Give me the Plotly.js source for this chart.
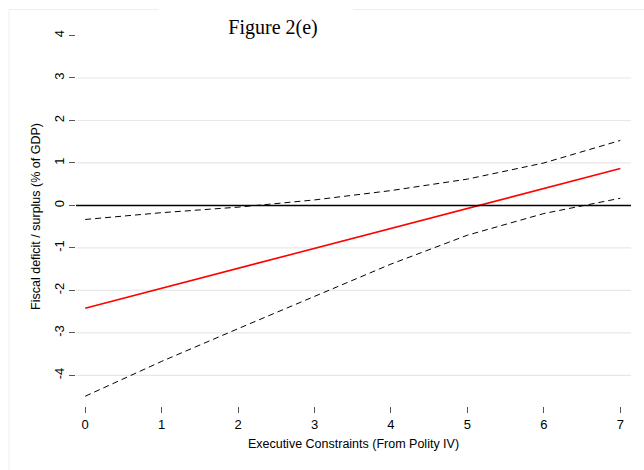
<!DOCTYPE html>
<html>
<head>
<meta charset="utf-8">
<script src="https://cdn.plot.ly/plotly-3.0.1.min.js"></script>
<style>html,body{margin:0;padding:0;background:#fff;}#chart{width:644px;height:470px;}</style>
</head>
<body>
<div id="chart"></div>
<script>
const xVals = [0, 1, 2, 3, 4, 5, 6, 7];
const fitted = [-2.42, -1.95, -1.48, -1.01, -0.54, -0.07, 0.40, 0.87];
const upperCI = [-0.33, -0.17, -0.04, 0.13, 0.35, 0.62, 1.00, 1.53];
const lowerCI = [-4.49, -3.67, -2.90, -2.14, -1.38, -0.70, -0.19, 0.17];
const yTicks = [-4, -3, -2, -1, 0, 1, 2, 3, 4];
const gridTicks = [-4, -3, -2, -1, 1, 2, 3];
const xTicks = [0, 1, 2, 3, 4, 5, 6, 7];

const traces = [
  {x: xVals, y: upperCI, mode: 'lines', line: {color: '#000', width: 1, dash: '6px,4px'}, hoverinfo: 'skip'},
  {x: xVals, y: lowerCI, mode: 'lines', line: {color: '#000', width: 1, dash: '6px,4px'}, hoverinfo: 'skip'},
  {x: xVals, y: fitted, mode: 'lines', line: {color: '#ff0000', width: 1.6}, hoverinfo: 'skip'}
];

const shapes = [];
gridTicks.forEach(v => shapes.push({type: 'line', xref: 'paper', yref: 'y', x0: 0, x1: 1, y0: v, y1: v,
  line: {color: '#e8e8e8', width: 1.2}, layer: 'below'}));
shapes.push({type: 'line', xref: 'paper', yref: 'y', x0: 0, x1: 1, y0: 0, y1: 0,
  line: {color: '#000', width: 1.6}, layer: 'above'});
// outer frame (cropped) and title background
shapes.push({type: 'rect', xref: 'paper', yref: 'paper', x0: -0.1207, x1: 1.2, y0: -0.3, y1: 1.046,
  line: {color: '#eeeeee', width: 1}, fillcolor: 'rgba(0,0,0,0)', layer: 'below'});
shapes.push({type: 'rect', xref: 'paper', yref: 'paper', x0: 0.148, x1: 0.499, y0: 1.03, y1: 1.06,
  line: {width: 0}, fillcolor: '#ffffff', layer: 'below'});

const layout = {
  width: 644, height: 470,
  margin: {l: 76, r: 13, t: 27, b: 64},
  paper_bgcolor: '#ffffff', plot_bgcolor: 'rgba(0,0,0,0)',
  showlegend: false,
  font: {family: 'Liberation Sans, Arial, sans-serif', color: '#000', size: 12},
  title: {text: 'Figure 2(e)', font: {family: 'Liberation Serif, Times New Roman, serif', size: 20, color: '#000'},
    x: 0.424, xanchor: 'center', y: 0.943, yanchor: 'middle'},
  xaxis: {range: [-0.12, 7.14], tickvals: xTicks, ticktext: xTicks.map(String),
    showgrid: false, zeroline: false, showline: false,
    ticks: 'outside', ticklen: 6, tickwidth: 1, tickcolor: '#555',
    tickfont: {size: 13}, title: {text: 'Executive Constraints (From Polity IV)', font: {size: 12.5}, standoff: 8}},
  yaxis: {range: [-4.72, 4.2], tickvals: yTicks, ticktext: yTicks.map(String),
    showgrid: false, zeroline: false, showline: false,
    ticks: 'outside', ticklen: 6, tickwidth: 1, tickcolor: '#555',
    tickangle: -90, tickfont: {size: 13},
    title: {text: 'Fiscal deficit / surplus (% of GDP)', font: {size: 12.5}, standoff: 8}},
  shapes: shapes
};

Plotly.newPlot('chart', traces, layout, {staticPlot: true, displayModeBar: false});
</script>
</body>
</html>
